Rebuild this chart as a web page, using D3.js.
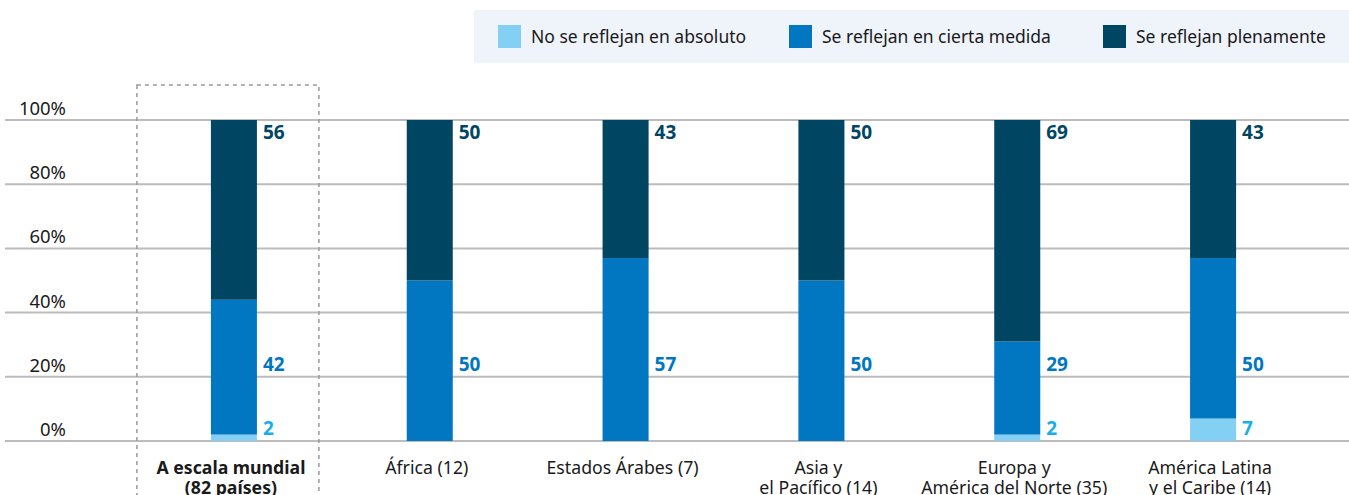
<!DOCTYPE html>
<html>
<head>
<meta charset="utf-8">
<script src="https://cdn.jsdelivr.net/npm/d3@7"></script>
<style>
  body { margin: 0; background: #fff; }
  svg { font-family: "Noto Sans", sans-serif; display: block; }
</style>
</head>
<body>
<div id="chart"></div>
<script>
// Datos
const categories = ["A escala mundial|(82 países)", "África (12)", "Estados Árabes (7)", "Asia y|el Pacífico (14)", "Europa y|América del Norte (35)", "América Latina|y el Caribe (14)"];
const seriesNames = ["No se reflejan en absoluto", "Se reflejan en cierta medida", "Se reflejan plenamente"];
const noneValues = [2, 0, 0, 0, 2, 7];
const someValues = [42, 50, 57, 50, 29, 50];
const fullValues = [56, 50, 43, 50, 69, 43];
const yTicks = [0, 20, 40, 60, 80, 100];

// Estilo
const [width, height] = [1349, 495];
const barColors = ["#84d0f5", "#0077c0", "#004663"];
const labelColors = ["#17aee9", "#0077c0", "#004663"];
const labelLevels = [4, 24, 96.3]; // altura fija de las etiquetas de valor

const svg = d3.select("#chart").append("svg")
  .attr("width", width)
  .attr("height", height);

const x = d3.scaleBand()
  .domain(categories)
  .range([136, 1311])
  .paddingInner(0.765)
  .paddingOuter(0.3825);

const y = d3.scaleLinear()
  .domain([0, 100])
  .range([441, 120]);

// Leyenda
const legend = svg.append("g");
legend.append("rect")
  .attr("x", 474).attr("y", 10)
  .attr("width", width - 474).attr("height", 53)
  .attr("fill", "#eff3fa");

const legendX = [498, 789, 1103];
seriesNames.forEach((name, i) => {
  legend.append("rect")
    .attr("x", legendX[i]).attr("y", 25)
    .attr("width", 23).attr("height", 23)
    .attr("fill", barColors[i]);
  legend.append("text")
    .attr("x", legendX[i] + 33).attr("y", 42.5)
    .attr("font-size", 17.5)
    .attr("fill", "#1a1a1a")
    .text(name);
});

// Rejilla y eje y
svg.append("g").selectAll("line")
  .data(yTicks)
  .enter()
  .append("line")
  .attr("x1", 5).attr("x2", width)
  .attr("y1", d => y(d)).attr("y2", d => y(d))
  .attr("stroke", "#bcbcbc")
  .attr("stroke-width", 2);

svg.append("g").selectAll("text")
  .data(yTicks)
  .enter()
  .append("text")
  .attr("x", 66)
  .attr("y", d => y(d) - 5)
  .attr("text-anchor", "end")
  .attr("font-size", 18.5)
  .attr("fill", "#1a1a1a")
  .text(d => d + "%");

// Recuadro punteado para el total mundial
svg.append("rect")
  .attr("x", x(categories[0]) - 74)
  .attr("y", 85)
  .attr("width", 182)
  .attr("height", 440)
  .attr("fill", "none")
  .attr("stroke", "#9a9a9a")
  .attr("stroke-width", 1.5)
  .attr("stroke-dasharray", "4,4");

// Barras apiladas
const rows = categories.map((c, i) => ({ cat: c, none: noneValues[i], some: someValues[i], full: fullValues[i] }));
const stack = d3.stack().keys(["none", "some", "full"])(rows);

const layers = svg.append("g").selectAll("g")
  .data(stack)
  .enter()
  .append("g")
  .attr("fill", (d, i) => barColors[i]);

layers.selectAll("rect")
  .data(d => d)
  .enter()
  .append("rect")
  .attr("x", d => x(d.data.cat))
  .attr("width", x.bandwidth())
  .attr("y", d => y(d[1]))
  .attr("height", d => y(d[0]) - y(d[1]));

// Etiquetas de valor
stack.forEach((layer, i) => {
  svg.append("g").selectAll("text")
    .data(layer.filter(d => d.data[layer.key] > 0))
    .enter()
    .append("text")
    .attr("x", d => x(d.data.cat) + x.bandwidth() + 6)
    .attr("y", y(labelLevels[i]))
    .attr("dy", "0.36em")
    .attr("font-size", 19)
    .attr("font-weight", "bold")
    .attr("fill", labelColors[i])
    .text(d => d.data[layer.key]);
});

// Etiquetas de categoría
const catLabels = svg.append("g").selectAll("text")
  .data(categories)
  .enter()
  .append("text")
  .attr("x", d => x(d) + x.bandwidth() / 2 - 3)
  .attr("y", 474)
  .attr("text-anchor", "middle")
  .attr("font-size", 17.7)
  .attr("font-weight", (d, i) => i === 0 ? "bold" : "normal")
  .attr("fill", "#1a1a1a");

catLabels.selectAll("tspan")
  .data(d => d.split("|"))
  .enter()
  .append("tspan")
  .attr("x", function () { return d3.select(this.parentNode).attr("x"); })
  .attr("dy", (d, i) => i === 0 ? 0 : 20)
  .text(d => d);
</script>
</body>
</html>
